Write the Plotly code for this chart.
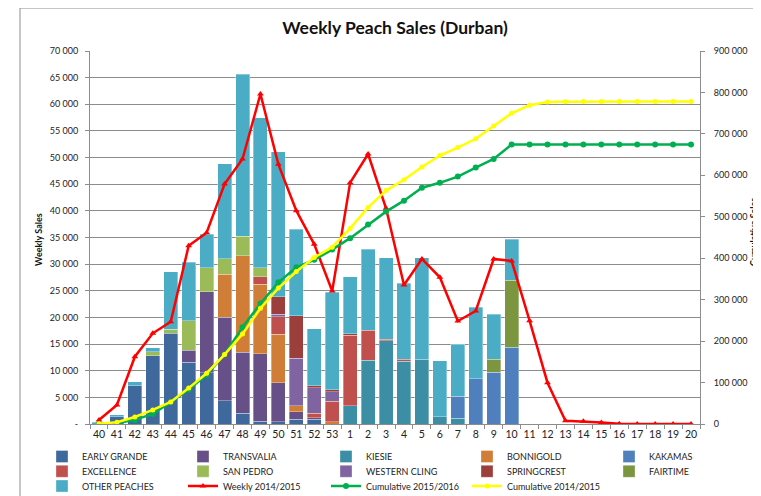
import plotly.graph_objects as go

weeks = ["40", "41", "42", "43", "44", "45", "46", "47", "48", "49", "50", "51", "52", "53",
         "1", "2", "3", "4", "5", "6", "7", "8", "9", "10", "11", "12", "13", "14", "15",
         "16", "17", "18", "19", "20"]
N = None
early_grande = [N, 1400, 7200, 12800, 17000, 11600, 9600, 4400, 2000, 500, 400, 880, 880, N,
                N, N, N, N, N, N, N, N, N, N, N, N, N, N, N, N, N, N, N, N]
transvalia = [N, N, N, N, N, 2250, 15200, 15650, 11450, 12640, 7350, 1430, 250, N,
              N, N, N, N, N, N, N, N, N, N, N, N, N, N, N, N, N, N, N, N]
kiesie = [N, N, N, N, N, N, N, N, N, N, N, N, N, N,
          3380, 11950, 15580, 11820, 12140, 1380, 1060, N, N, N, N, N, N, N, N, N, N, N, N, N]
bonnigold = [N, N, N, N, N, N, N, 8100, 18080, 13100, 9080, 1070, N, 440,
             N, N, N, N, N, N, N, N, N, N, N, N, N, N, N, N, N, N, N, N]
kakamas = [N, N, N, N, N, N, N, N, N, N, N, N, N, N,
           N, N, N, N, N, N, 4130, 8510, 9700, 14390, N, N, N, N, N, N, N, N, N, N]
excellence = [N, N, N, N, N, N, N, N, N, 1400, 3310, N, 870, 3820,
              13320, 5690, 300, 300, N, N, N, N, N, N, N, N, N, N, N, N, N, N, N, N]
san_pedro = [N, N, N, 800, 750, 5500, 4570, 2900, 3750, 1650, N, N, N, N,
             N, N, N, N, N, N, N, N, N, N, N, N, N, N, N, N, N, N, N, N]
western_cling = [N, N, N, N, N, N, N, N, N, N, 440, 8950, 4760, 1810,
                 N, N, N, N, N, N, N, N, N, N, N, N, N, N, N, N, N, N, N, N]
springcrest = [N, N, N, N, N, N, N, N, N, N, 3300, 7940, 430, 370,
               200, N, N, N, N, N, N, N, N, N, N, N, N, N, N, N, N, N, N, N]
fairtime = [N, N, N, N, N, N, N, N, N, N, N, N, N, N,
            N, N, N, N, N, N, N, N, 2440, 12630, N, N, N, N, N, N, N, N, N, N]
other_peaches = [300, 300, 700, 700, 10800, 11000, 6200, 17800, 30400, 28150, 27200, 16260, 10640, 18280,
                 10750, 15140, 15340, 14280, 19080, 10510, 9760, 13390, 8440, 7640,
                 N, N, N, N, N, N, N, N, N, N]

weekly_1415 = [750, 3560, 12630, 17020, 19200, 33470, 35900, 45040, 49730, 61930, 48730, 40030, 33720, 24960,
               45290, 50670, 40480, 26090, 30970, 27530, 19330, 21210, 30970, 30590, 19390, 7750,
               600, 500, 300, 50, 0, 0, 0, 0]
cum_1516 = [300, 2000, 9900, 24300, 52800, 83100, 118700, 167600, 233300, 290700, 341800, 378300, 396100, 420800,
            448450, 481250, 512450, 538850, 570050, 581950, 596900, 618800, 639400, 674100, 674100, 674100,
            674100, 674100, 674100, 674100, 674100, 674100, 674100, 674100]
cum_1415 = [750, 4310, 16940, 33960, 53160, 86630, 122530, 167570, 217300, 279230, 327960, 367990, 401710, 426670,
            471960, 522630, 563110, 589200, 620170, 647700, 667030, 688240, 719210, 749800, 769190, 776940,
            777540, 778040, 778340, 778390, 778390, 778390, 778390, 778390]

y1_ticks = [0, 5000, 10000, 15000, 20000, 25000, 30000, 35000, 40000, 45000, 50000, 55000, 60000, 65000, 70000]
y1_ticktext = ["-", "5 000", "10 000", "15 000", "20 000", "25 000", "30 000", "35 000", "40 000",
               "45 000", "50 000", "55 000", "60 000", "65 000", "70 000"]
y2_ticks = [0, 100000, 200000, 300000, 400000, 500000, 600000, 700000, 800000, 900000]
y2_ticktext = ["0", "100 000", "200 000", "300 000", "400 000", "500 000", "600 000", "700 000",
               "800 000", "900 000"]

FONT = "Lato, 'Open Sans', sans-serif"
OFF = 8  # page body margin offset
W, H = 761 - OFF, 496 - OFF

bar_series = [
    ("EARLY GRANDE", early_grande, "#3F699D"),
    ("TRANSVALIA", transvalia, "#674F87"),
    ("KIESIE", kiesie, "#3B8EA3"),
    ("BONNIGOLD", bonnigold, "#D07D37"),
    ("KAKAMAS", kakamas, "#4F80BD"),
    ("EXCELLENCE", excellence, "#C0504D"),
    ("SAN PEDRO", san_pedro, "#9BBB59"),
    ("WESTERN CLING", western_cling, "#8064A2"),
    ("SPRINGCREST", springcrest, "#9C3E3B"),
    ("FAIRTIME", fairtime, "#7B963F"),
    ("OTHER PEACHES", other_peaches, "#4BACC6"),
]

# legend slot positions in page px (item left x, row centre y)
col_x = [42, 183, 326, 467, 609]
row_y = [456.5, 471.3, 486]

fig = go.Figure()
legend_layouts = {}
idx = 0


def legend_slot(i):
    r, c = divmod(i, 5)
    name = "legend" if i == 0 else f"legend{i + 1}"
    top = row_y[r] - 14.5 - OFF
    legend_layouts[name] = dict(
        x=(col_x[c] - OFF) / W, y=1 - top / H, xref="container", yref="container",
        xanchor="left", yanchor="top", orientation="h",
        bgcolor="rgba(0,0,0,0)", borderwidth=0,
        font=dict(family=FONT, size=9, color="#222"),
    )
    return name


for name, vals, col in bar_series:
    lg = legend_slot(idx)
    idx += 1
    fig.add_trace(go.Bar(
        x=weeks, y=vals, name=name, marker=dict(color=col, line=dict(color="rgba(255,255,255,0.55)", width=0.6)),
        legend=lg,
    ))

lg = legend_slot(idx); idx += 1
fig.add_trace(go.Scatter(
    x=weeks, y=weekly_1415, name="Weekly 2014/2015", mode="lines+markers",
    line=dict(color="#FF0000", width=2.5), marker=dict(symbol="triangle-up", size=6, color="#FF0000"),
    legend=lg,
))
lg = legend_slot(idx); idx += 1
fig.add_trace(go.Scatter(
    x=weeks, y=cum_1516, name="Cumulative 2015/2016", mode="lines+markers", yaxis="y2",
    line=dict(color="#00B050", width=2.5), marker=dict(symbol="circle", size=6, color="#00B050"),
    legend=lg,
))
lg = legend_slot(idx); idx += 1
fig.add_trace(go.Scatter(
    x=weeks, y=cum_1415, name="Cumulative 2014/2015", mode="lines+markers", yaxis="y2",
    line=dict(color="#FFFF00", width=2.5), marker=dict(symbol="circle", size=5, color="#FFFF00"),
    legend=lg,
))

axis_gray = "#8C8C8C"
fig.update_layout(
    template="none",
    width=W, height=H,
    margin=dict(l=90 - OFF, r=W - (700 - OFF), t=51 - OFF, b=H - (424 - OFF), autoexpand=False),
    paper_bgcolor="white", plot_bgcolor="white",
    barmode="stack", bargap=0.22,
    font=dict(family=FONT, size=10, color="#222"),
    title=dict(text="<b>Weekly Peach Sales (Durban)</b>", x=(395 - OFF) / W, y=1 - (28 - OFF) / H,
               xanchor="center", yanchor="middle", font=dict(family=FONT, size=17.5, color="#111")),
    xaxis=dict(type="category", categoryorder="array", categoryarray=weeks, range=[-0.5, 33.5],
               showline=True, linecolor=axis_gray, linewidth=1, ticks="outside", ticklen=4,
               tickcolor=axis_gray, tickson="boundaries", showgrid=False, automargin=False, tickangle=0,
               tickfont=dict(family=FONT, size=10.5, color="#222")),
    yaxis=dict(range=[0, 70000], tickvals=y1_ticks, ticktext=y1_ticktext, showgrid=True,
               gridcolor=axis_gray, gridwidth=1, showline=True, linecolor=axis_gray, ticks="outside",
               ticklen=4, tickcolor=axis_gray, zeroline=False, automargin=False, ticklabelstandoff=5,
               tickfont=dict(family=FONT, size=9, color="#222")),
    yaxis2=dict(range=[0, 900000], tickvals=y2_ticks, ticktext=y2_ticktext, overlaying="y", side="right",
                showgrid=False, showline=True, linecolor=axis_gray, ticks="outside", ticklen=4,
                tickcolor=axis_gray, zeroline=False, automargin=False, ticklabelstandoff=7,
                tickfont=dict(family=FONT, size=9, color="#222")),
    annotations=[
        dict(text="<b>Weekly Sales</b>", x=(38 - 90) / 610, y=(424 - 240) / 373, xref="paper", yref="paper",
             textangle=-90, showarrow=False, font=dict(family=FONT, size=9, color="#111"),
             xanchor="center", yanchor="middle"),
        dict(text="<b>Cumulative Sales</b>", x=(753 - 90) / 610, y=(424 - 232) / 373, xref="paper",
             yref="paper", textangle=-90, showarrow=False, font=dict(family=FONT, size=9, color="#111"),
             xanchor="center", yanchor="middle"),
    ],
    shapes=[
        dict(type="line", xref="paper", yref="paper", x0=(20 - 90) / 610, x1=(20 - 90) / 610,
             y0=(424 - 520) / 373, y1=(424 - 8) / 373, line=dict(color="#8C8C8C", width=1)),
        dict(type="line", xref="paper", yref="paper", x0=(20 - 90) / 610, x1=(800 - 90) / 610,
             y0=(424 - 8) / 373, y1=(424 - 8) / 373, line=dict(color="#8C8C8C", width=1)),
    ],
    showlegend=True,
)
fig.update_layout(**legend_layouts)

fig.write_html("out.html")
